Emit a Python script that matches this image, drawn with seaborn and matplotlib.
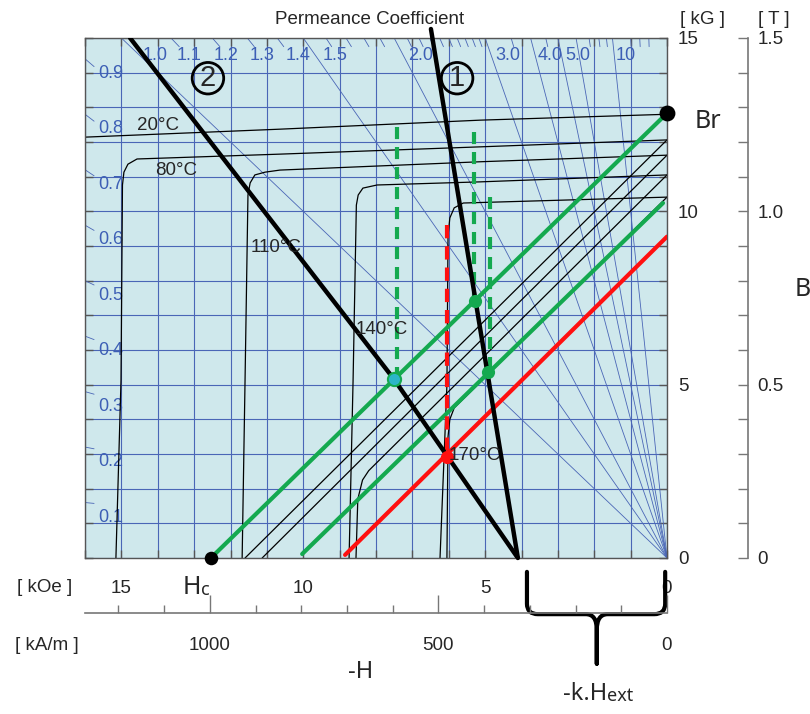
import matplotlib
matplotlib.use("Agg")
import matplotlib.pyplot as plt
from matplotlib.ticker import MultipleLocator, FixedLocator
from matplotlib.path import Path
from matplotlib.patches import PathPatch
import seaborn as sns

sns.set_theme(style="white")
plt.rcParams["font.family"] = ["Liberation Sans", "DejaVu Sans"]

# -H in kOe (0 at the right), B / J in kG
# intrinsic curves (J-H)
j20_h = [16.0, 10.64, 5.14, 0.0]
j20_b = [12.14, 12.37, 12.63, 12.80]
j80_h = [0.0, 5.14, 10.64, 14.57, 14.82, 14.93, 14.97, 15.01, 15.15]
j80_b = [12.06, 11.86, 11.65, 11.51, 11.36, 11.13, 10.76, 5.13, 0.0]
j110_h = [0.0, 5.14, 10.64, 11.05, 11.33, 11.46, 11.52, 11.60, 11.68]
j110_b = [11.62, 11.43, 11.19, 11.13, 11.05, 10.82, 10.47, 5.13, 0.0]
j140_h = [0.0, 5.14, 7.97, 8.36, 8.49, 8.54, 8.63, 8.74]
j140_b = [11.05, 10.85, 10.76, 10.67, 10.47, 10.18, 5.13, 0.0]
j170_h = [0.0, 5.60, 5.85, 5.97, 6.02, 6.05, 6.24]
j170_b = [10.41, 10.24, 10.10, 9.81, 9.29, 4.99, 0.0]

# normal curves (B-H)
b80_h = [0.0, 11.6]
b80_b = [12.06, 0.0]
b110_h = [0.0, 11.13]
b110_b = [11.62, 0.0]
b140_h = [0.0, 8.20, 8.37, 8.50, 8.55]
b140_b = [11.05, 2.52, 2.25, 1.70, 0.0]
b170_h = [0.0, 5.85, 5.97, 6.02, 6.05]
b170_b = [10.41, 4.33, 4.00, 3.50, 0.0]

temp_labels = ["20°C", "80°C", "110°C", "140°C", "170°C"]
temp_label_h = [13.99, 13.50, 10.75, 7.84, 5.28]
temp_label_b = [12.49, 11.19, 8.97, 6.58, 2.97]

# shifted load lines 1 and 2
load1_h = [4.10, 6.49]
load1_b = [0.0, 15.26]
load2_h = [4.10, 7.50, 14.76]
load2_b = [0.0, 5.15, 15.0]
load_label_h = [5.77, 12.62]
load_label_b = [13.84, 13.84]

# annotation lines
green1_h = [0.0, 12.54]
green1_b = [12.83, 0.0]
green2_h = [0.11, 10.03]
green2_b = [10.24, 0.115]
red_h = [0.0, 8.85]
red_b = [9.27, 0.09]

dash_green_h = [7.42, 5.31, 4.87]
dash_green_top = [12.43, 12.29, 10.40]
dash_green_bot = [5.15, 7.42, 5.36]
dash_red_h = [6.05]
dash_red_top = [9.60]
dash_red_bot = [2.91]

br_pt = ([0.0], [12.85])
hc_pt = ([12.54], [0.0])
cyan_pt = ([7.50], [5.15])
green_pts = ([5.27, 4.93], [7.42, 5.36])
red_pt = ([6.05], [2.91])

# permeance coefficient lines
pc_lines = [1.0, 1.5, 2.0, 3.0, 4.0, 5.0, 6.0, 10.0]
pc_top_ticks = [1.1, 1.2, 1.3, 1.4, 1.6, 1.7, 1.8, 1.9, 2.1, 2.2, 2.3, 2.4,
                2.5, 2.6, 2.7, 2.8, 2.9, 3.5, 4.5, 7.0, 8.0, 9.0, 15.0, 20.0, 30.0]
pc_left = [0.1, 0.2, 0.3, 0.4, 0.5, 0.6, 0.7, 0.8, 0.9]
pc_top_labels = ["1.0", "1.1", "1.2", "1.3", "1.4", "1.5", "2.0", "3.0", "4.0", "5.0", "10"]
pc_top_label_h = [14.07, 13.14, 12.12, 11.13, 10.14, 9.13, 6.76, 4.37, 3.22, 2.45, 1.13]

hext_span = [3.85, 0.05]
hext_tip = 1.93

KOE_TO_KAM = 79.5775

BLUE = "#4a66b6"
BLUE_TXT = "#3d5fb5"
GREEN = "#14a94f"
RED = "#ff1010"
ANNO_FONT = ["Noto Sans", "DejaVu Sans"]

fig = plt.figure(figsize=(8.1, 7.14), dpi=100)
rect = [85 / 810, 1 - 558 / 714, 582 / 810, 520 / 714]
ax = fig.add_axes(rect)
ax.set_facecolor("#cfe8ec")


def curve(h, b, **kw):
    sns.lineplot(x=h, y=b, ax=ax, estimator=None, sort=False, legend=False, **kw)


# permeance fan
for pc in pc_lines:
    curve([0, 20], [0, 20 * pc], color=BLUE, lw=0.6, zorder=1)
for pc in pc_top_ticks:
    curve([15 / pc, 14.75 / pc], [15, 14.75], color=BLUE, lw=0.6, zorder=1)
for pc in pc_left:
    curve([16, 15.75], [16 * pc, 15.75 * pc], color=BLUE, lw=0.6, zorder=1)

for lab, h in zip(pc_top_labels, pc_top_label_h):
    ax.text(h, 14.5, lab, color=BLUE_TXT, fontsize=13, ha="center", va="center", zorder=2)
for pc in pc_left:
    ax.text(15.3, 16 * pc - 0.42, f"{pc:.1f}", color=BLUE_TXT, fontsize=13,
            ha="center", va="center", zorder=2)

# demagnetization curves
for h, b in [(j20_h, j20_b), (j80_h, j80_b), (j110_h, j110_b), (j140_h, j140_b),
             (j170_h, j170_b), (b80_h, b80_b), (b110_h, b110_b), (b140_h, b140_b),
             (b170_h, b170_b)]:
    curve(h, b, color="black", lw=0.9, zorder=2)

for lab, h, b in zip(temp_labels, temp_label_h, temp_label_b):
    ax.text(h, b, lab, fontsize=13.5, ha="center", va="center", zorder=6)

# green / red annotation lines
curve(green1_h, green1_b, color=GREEN, lw=3, zorder=3)
curve(green2_h, green2_b, color=GREEN, lw=3, zorder=3)
curve(red_h, red_b, color=RED, lw=3, zorder=3)

for h, t, bt in zip(dash_green_h, dash_green_top, dash_green_bot):
    ax.plot([h, h], [t, bt], color=GREEN, lw=3, ls=(0, (2.9, 1.9)), zorder=3.5,
            dash_capstyle="butt")
for h, t, bt in zip(dash_red_h, dash_red_top, dash_red_bot):
    ax.plot([h, h], [t, bt], color=RED, lw=3, ls=(0, (3.2, 1.9)), zorder=3.5,
            dash_capstyle="butt")

# load lines
curve(load1_h, load1_b, color="black", lw=3.2, zorder=4, clip_on=False)
curve(load2_h, load2_b, color="black", lw=3.2, zorder=4)
for lab, h, b in zip(["1", "2"], load_label_h, load_label_b):
    ax.text(h, b, lab, fontsize=21, ha="center", va="center", zorder=6,
            bbox=dict(boxstyle="circle,pad=0.06", fc="none", ec="black", lw=2))

# points
sns.scatterplot(x=br_pt[0], y=br_pt[1], ax=ax, s=130, color="black", linewidth=0,
                zorder=5, clip_on=False, legend=False)
sns.scatterplot(x=hc_pt[0], y=hc_pt[1], ax=ax, s=95, color="black", linewidth=0,
                zorder=5, clip_on=False, legend=False)
sns.scatterplot(x=cyan_pt[0], y=cyan_pt[1], ax=ax, s=90, color="#2bb5c8",
                edgecolor=GREEN, linewidth=1.5, zorder=5, legend=False)
sns.scatterplot(x=green_pts[0], y=green_pts[1], ax=ax, s=90, color=GREEN,
                linewidth=0, zorder=5, legend=False)
sns.scatterplot(x=red_pt[0], y=red_pt[1], ax=ax, s=90, color=RED,
                linewidth=0, zorder=5, legend=False)

ax.set_xlim(16, 0)
ax.set_ylim(0, 15)
ax.set_xlabel("")
ax.set_ylabel("")
ax.xaxis.set_major_locator(FixedLocator([0, 5, 10, 15]))
ax.xaxis.set_minor_locator(MultipleLocator(1))
ax.yaxis.set_major_locator(FixedLocator([0, 5, 10, 15]))
ax.yaxis.set_minor_locator(MultipleLocator(1))
ax.set_xticklabels(["0", "5", "10", "15"])
ax.set_yticklabels(["0", "5", "10", "15"])
ax.grid(which="both", color=BLUE, lw=0.8)
ax.set_axisbelow(True)
ax.tick_params(which="both", direction="in", length=6, width=1, color="#555",
               top=True, bottom=True, left=True, right=True,
               labelleft=False, labelright=True, labelbottom=True, labeltop=False)
ax.tick_params(axis="x", pad=16, labelsize=13.5)
ax.tick_params(axis="y", pad=8, labelsize=13.5)
for s in ax.spines.values():
    s.set_color("#555")
    s.set_linewidth(1)

# Br / Hc labels
ax.text(-0.77, 12.6, "Br", fontsize=18, family=ANNO_FONT, ha="left", va="center",
        clip_on=False)
t_h = ax.text(13.31, -0.84, "H", fontsize=18, family=ANNO_FONT, ha="left",
              va="center", clip_on=False)
ax.annotate("c", xy=(1, 0.04), xycoords=t_h, fontsize=13, family=ANNO_FONT,
            ha="left", va="bottom")

# -k.Hext brace under the axis
L, R = hext_span
top, flat, tip = -0.40, -1.62, -3.05
verts = [(L, top), (L, flat + 0.3), (L, flat), (L - 0.3, flat),
         (hext_tip + 0.3, flat), (hext_tip, flat), (hext_tip, flat - 0.45), (hext_tip, tip),
         (hext_tip, flat - 0.45), (hext_tip, flat), (hext_tip - 0.3, flat),
         (R + 0.3, flat), (R, flat), (R, flat + 0.3), (R, top)]
codes = [Path.MOVETO, Path.LINETO, Path.CURVE3, Path.CURVE3,
         Path.LINETO, Path.CURVE3, Path.CURVE3, Path.LINETO,
         Path.LINETO, Path.CURVE3, Path.CURVE3,
         Path.LINETO, Path.CURVE3, Path.CURVE3, Path.LINETO]
ax.add_patch(PathPatch(Path(verts, codes), fc="none", ec="black", lw=3,
                       clip_on=False, zorder=6, capstyle="round", joinstyle="round"))

# kA/m scale
axb = fig.add_axes([rect[0], 1 - 613 / 714, rect[2], 1e-4])
axb.set_xlim(16 * KOE_TO_KAM, 0)
axb.patch.set_visible(False)
for s in ["top", "left", "right"]:
    axb.spines[s].set_visible(False)
axb.spines["bottom"].set_color("#777")
axb.spines["bottom"].set_linewidth(1.2)
axb.set_yticks([])
axb.xaxis.set_major_locator(FixedLocator([0, 500, 1000]))
axb.xaxis.set_minor_locator(MultipleLocator(100))
axb.tick_params(axis="x", which="major", direction="in", length=13, width=1,
                color="#777", labelsize=13.5, pad=17, bottom=True)
axb.tick_params(axis="x", which="minor", direction="in", length=6, width=1,
                color="#777", bottom=True)

# Tesla scale
axt = fig.add_axes([748 / 810 - 1e-4, rect[1], 1e-4, rect[3]])
axt.set_ylim(0, 1.5)
axt.patch.set_visible(False)
for s in ["top", "left", "bottom"]:
    axt.spines[s].set_visible(False)
axt.spines["right"].set_color("#777")
axt.spines["right"].set_linewidth(1.2)
axt.set_xticks([])
axt.yaxis.set_major_locator(FixedLocator([0, 0.5, 1.0, 1.5]))
axt.yaxis.set_minor_locator(MultipleLocator(0.1))
axt.set_yticklabels(["0", "0.5", "1.0", "1.5"])
axt.tick_params(axis="y", which="both", direction="in", length=7.5, width=1,
                color="#777", labelsize=13.5, pad=7, right=True, left=False,
                labelright=True, labelleft=False)

# figure texts
fig.text(370 / 810, 1 - 20 / 714, "Permeance Coefficient", fontsize=13.5, ha="center", va="center")
fig.text(702 / 810, 1 - 19 / 714, "[ kG ]", fontsize=13.5, ha="center", va="center")
fig.text(774 / 810, 1 - 19 / 714, "[ T ]", fontsize=13.5, ha="center", va="center")
fig.text(45 / 810, 1 - 588 / 714, "[ kOe ]", fontsize=13.5, ha="center", va="center")
fig.text(47 / 810, 1 - 645 / 714, "[ kA/m ]", fontsize=13.5, ha="center", va="center")
fig.text(795 / 810, 1 - 290 / 714, "B", fontsize=18, family=ANNO_FONT, ha="left", va="center")
fig.text(361 / 810, 1 - 672 / 714, "-H", fontsize=17, family=ANNO_FONT, ha="center", va="center")
t_k = fig.text(563 / 810, 1 - 694 / 714, "-k.H", fontsize=17, family=ANNO_FONT,
               ha="left", va="center")
ax.annotate("ext", xy=(1, 0.04), xycoords=t_k, fontsize=13, family=ANNO_FONT,
            ha="left", va="bottom", annotation_clip=False)

fig.savefig("out.png", dpi=100)
